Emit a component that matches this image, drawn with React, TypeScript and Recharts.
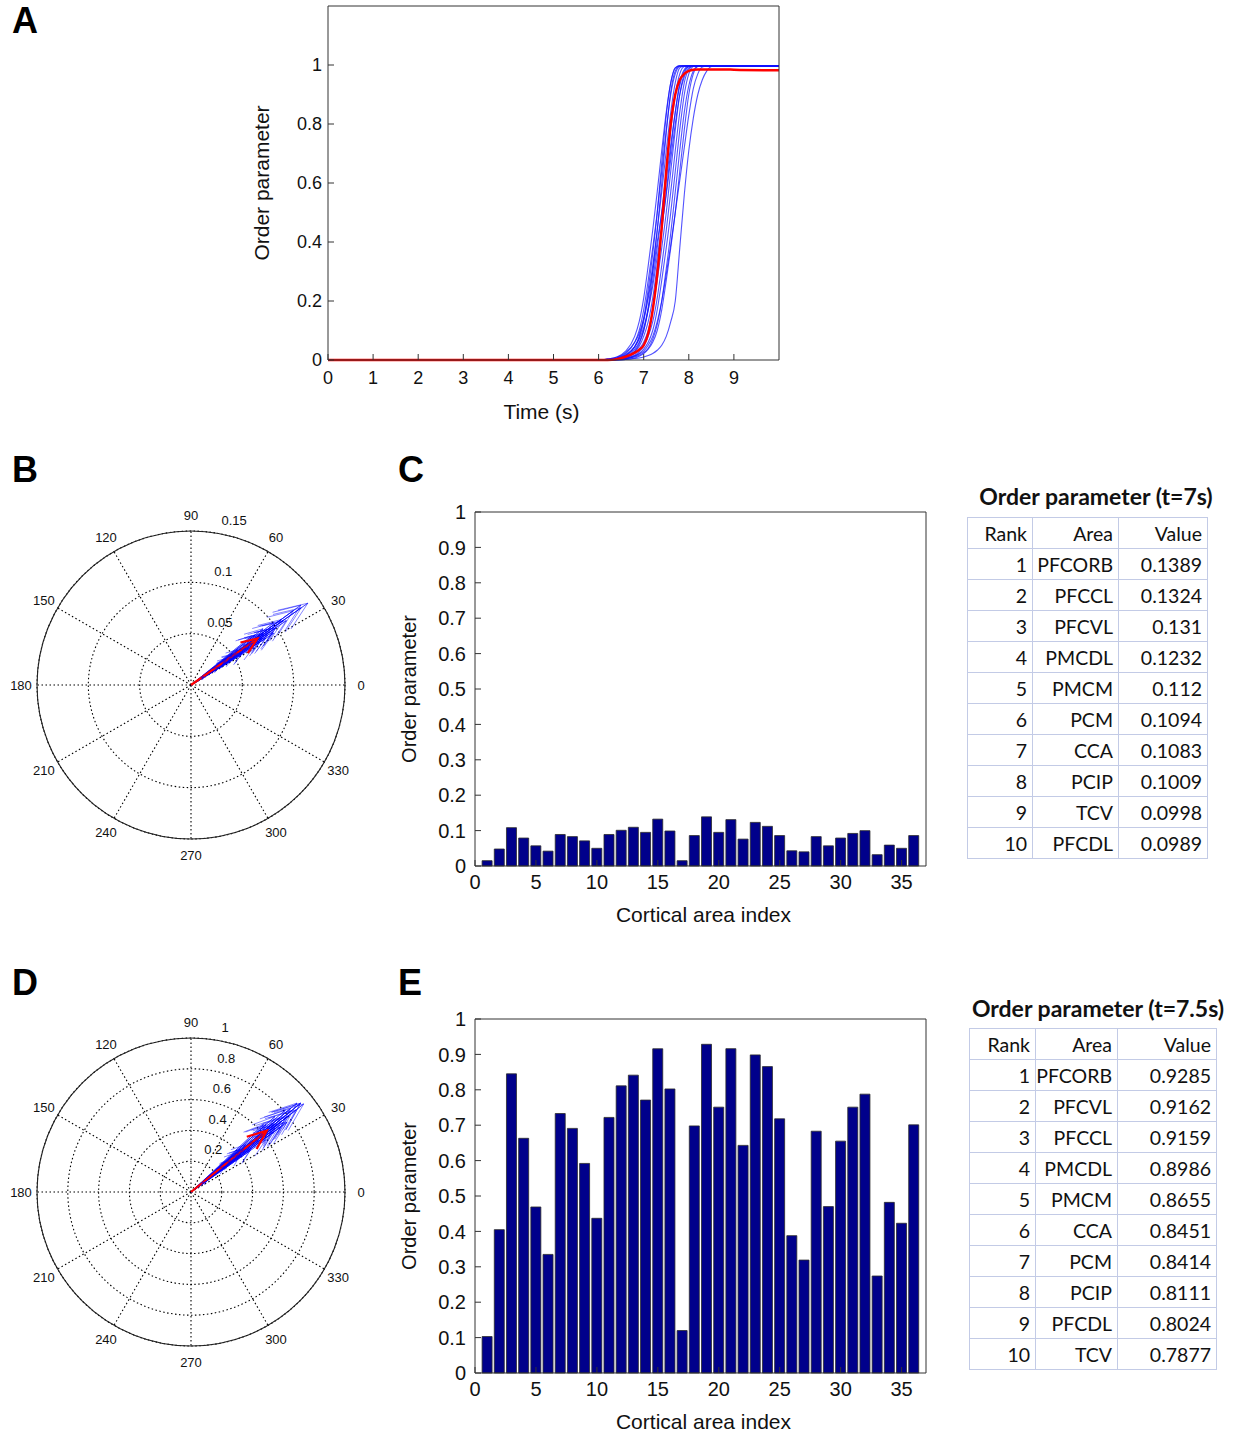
import React from "react";
import {
  LineChart,
  Line,
  BarChart,
  Bar,
  XAxis,
  YAxis,
  ReferenceDot,
  RadarChart,
  Radar,
  PolarGrid,
  PolarAngleAxis,
} from "recharts";

// ---- panel A: order parameter of every run over time ----
const timePoints = [0, 6.0, 6.2, 6.4, 6.6, 6.8, 6.9, 7.0, 7.1, 7.2, 7.3, 7.4, 7.5, 7.6, 7.7, 7.8, 7.9, 8.0, 8.1, 8.2, 8.3, 8.4, 8.5, 8.6, 8.8, 9.0, 10];

const run01 = [0, 0, 0.002, 0.007, 0.022, 0.06, 0.1, 0.17, 0.27, 0.38, 0.5, 0.64, 0.78, 0.9, 0.97, 0.995, 0.997, 0.997, 0.997, 0.997, 0.997, 0.997, 0.997, 0.997, 0.997, 0.997, 0.997];
const run02 = [0, 0, 0.001, 0.004, 0.015, 0.045, 0.08, 0.14, 0.24, 0.36, 0.5, 0.67, 0.83, 0.94, 0.99, 0.997, 0.997, 0.997, 0.997, 0.997, 0.997, 0.997, 0.997, 0.997, 0.997, 0.997, 0.997];
const run03 = [0, 0, 0.001, 0.004, 0.013, 0.037, 0.06, 0.1, 0.17, 0.27, 0.38, 0.5, 0.64, 0.78, 0.9, 0.97, 0.995, 0.997, 0.997, 0.997, 0.997, 0.997, 0.997, 0.997, 0.997, 0.997, 0.997];
const run04 = [0, 0, 0.003, 0.009, 0.025, 0.06, 0.09, 0.14, 0.21, 0.3, 0.4, 0.5, 0.61, 0.73, 0.84, 0.93, 0.98, 0.995, 0.997, 0.997, 0.997, 0.997, 0.997, 0.997, 0.997, 0.997, 0.997];
const run05 = [0, 0, 0.001, 0.003, 0.01, 0.03, 0.055, 0.1, 0.18, 0.3, 0.44, 0.6, 0.77, 0.91, 0.98, 0.997, 0.997, 0.997, 0.997, 0.997, 0.997, 0.997, 0.997, 0.997, 0.997, 0.997, 0.997];
const run06 = [0, 0, 0, 0.002, 0.007, 0.022, 0.037, 0.06, 0.1, 0.17, 0.27, 0.38, 0.5, 0.64, 0.78, 0.9, 0.97, 0.995, 0.997, 0.997, 0.997, 0.997, 0.997, 0.997, 0.997, 0.997, 0.997];
const run07 = [0, 0, 0.002, 0.006, 0.018, 0.045, 0.07, 0.11, 0.17, 0.25, 0.35, 0.45, 0.56, 0.68, 0.8, 0.9, 0.96, 0.99, 0.997, 0.997, 0.997, 0.997, 0.997, 0.997, 0.997, 0.997, 0.997];
const run08 = [0, 0, 0, 0.001, 0.004, 0.013, 0.022, 0.037, 0.06, 0.1, 0.17, 0.27, 0.38, 0.5, 0.64, 0.78, 0.9, 0.97, 0.995, 0.997, 0.997, 0.997, 0.997, 0.997, 0.997, 0.997, 0.997];
const run09 = [0, 0, 0.003, 0.01, 0.03, 0.08, 0.13, 0.21, 0.32, 0.44, 0.57, 0.71, 0.84, 0.94, 0.99, 0.997, 0.997, 0.997, 0.997, 0.997, 0.997, 0.997, 0.997, 0.997, 0.997, 0.997, 0.997];
const run10 = [0, 0, 0, 0, 0.002, 0.007, 0.013, 0.022, 0.037, 0.06, 0.1, 0.17, 0.27, 0.38, 0.5, 0.64, 0.78, 0.9, 0.97, 0.995, 0.997, 0.997, 0.997, 0.997, 0.997, 0.997, 0.997];
const run11 = [0, 0, 0, 0.002, 0.006, 0.014, 0.02, 0.03, 0.05, 0.08, 0.13, 0.2, 0.29, 0.39, 0.5, 0.61, 0.72, 0.83, 0.92, 0.97, 0.993, 0.997, 0.997, 0.997, 0.997, 0.997, 0.997];
const run12 = [0, 0, 0, 0, 0.002, 0.005, 0.007, 0.01, 0.015, 0.022, 0.033, 0.05, 0.08, 0.13, 0.2, 0.38, 0.56, 0.71, 0.82, 0.9, 0.95, 0.98, 0.995, 0.997, 0.997, 0.997, 0.997];
const run13 = [0, 0, 0, 0.001, 0.004, 0.01, 0.016, 0.025, 0.04, 0.07, 0.12, 0.2, 0.31, 0.43, 0.57, 0.71, 0.84, 0.93, 0.98, 0.996, 0.997, 0.997, 0.997, 0.997, 0.997, 0.997, 0.997];
const run14 = [0, 0, 0.002, 0.005, 0.016, 0.045, 0.075, 0.13, 0.22, 0.32, 0.44, 0.57, 0.71, 0.84, 0.94, 0.99, 0.997, 0.997, 0.997, 0.997, 0.997, 0.997, 0.997, 0.997, 0.997, 0.997, 0.997];
const run15 = [0, 0, 0.001, 0.003, 0.01, 0.028, 0.047, 0.08, 0.13, 0.21, 0.32, 0.44, 0.57, 0.71, 0.84, 0.94, 0.985, 0.997, 0.997, 0.997, 0.997, 0.997, 0.997, 0.997, 0.997, 0.997, 0.997];
const run16 = [0, 0, 0, 0.001, 0.005, 0.016, 0.028, 0.047, 0.08, 0.13, 0.21, 0.32, 0.44, 0.57, 0.71, 0.84, 0.94, 0.985, 0.997, 0.997, 0.997, 0.997, 0.997, 0.997, 0.997, 0.997, 0.997];
const blueRuns = [run01, run02, run03, run04, run05, run06, run07, run08, run09, run10, run11, run12, run13, run14, run15, run16];

const meanRun = [0, 0, 0, 0.003, 0.011, 0.025, 0.035, 0.05, 0.09, 0.17, 0.29, 0.45, 0.64, 0.8, 0.9, 0.95, 0.97, 0.98, 0.984, 0.985, 0.985, 0.985, 0.985, 0.985, 0.985, 0.984, 0.982];

const timeTicks = [0, 1, 2, 3, 4, 5, 6, 7, 8, 9];
const orderTicksA = [0, 0.2, 0.4, 0.6, 0.8, 1];

// ---- panels B-E: per-area order parameter and phase ----
const areaIndex = [1, 2, 3, 4, 5, 6, 7, 8, 9, 10, 11, 12, 13, 14, 15, 16, 17, 18, 19, 20, 21, 22, 23, 24, 25, 26, 27, 28, 29, 30, 31, 32, 33, 34, 35, 36];
const orderAt7 = [0.015, 0.048, 0.1083, 0.079, 0.057, 0.042, 0.089, 0.083, 0.071, 0.05, 0.089, 0.1009, 0.1094, 0.095, 0.1324, 0.0989, 0.015, 0.086, 0.1389, 0.095, 0.131, 0.076, 0.1232, 0.112, 0.086, 0.043, 0.04, 0.083, 0.057, 0.079, 0.092, 0.0998, 0.032, 0.059, 0.05, 0.086];
const orderAt75 = [0.103, 0.405, 0.8451, 0.663, 0.469, 0.335, 0.733, 0.691, 0.592, 0.437, 0.722, 0.8111, 0.8414, 0.771, 0.9159, 0.8024, 0.12, 0.698, 0.9285, 0.751, 0.9162, 0.643, 0.8986, 0.8655, 0.718, 0.388, 0.319, 0.683, 0.47, 0.655, 0.751, 0.7877, 0.274, 0.482, 0.423, 0.701];
const phaseAt7 = [34, 33, 36, 32, 37, 35, 38, 34, 31, 36, 33, 37, 35, 32, 36, 34, 30, 36, 35, 33, 35, 39, 36, 34, 32, 37, 35, 33, 31, 38, 36, 34, 33, 32, 37, 35];
const phaseAt75 = [38, 37, 40, 36, 41, 39, 42, 38, 35, 40, 37, 41, 39, 36, 39, 38, 34, 40, 38, 37, 39, 43, 40, 38, 36, 41, 39, 37, 35, 42, 40, 38, 37, 36, 41, 39];
const meanAt7 = { r: 0.079, a: 35 };
const meanAt75 = { r: 0.634, a: 39 };
const ringsAt7 = [0.05, 0.1, 0.15];
const ringsAt75 = [0.2, 0.4, 0.6, 0.8, 1];

// the radar angle axis puts its first tick one step before 0 deg when it runs counter-clockwise
const compassAngles = ["330", "0", "30", "60", "90", "120", "150", "180", "210", "240", "270", "300"];
const areaTicks = [0, 5, 10, 15, 20, 25, 30, 35];
const orderTicksBar = [0, 0.1, 0.2, 0.3, 0.4, 0.5, 0.6, 0.7, 0.8, 0.9, 1];

// ---- ranking tables ----
const ranks = [1, 2, 3, 4, 5, 6, 7, 8, 9, 10];
const topAreasAt7 = ["PFCORB", "PFCCL", "PFCVL", "PMCDL", "PMCM", "PCM", "CCA", "PCIP", "TCV", "PFCDL"];
const topValuesAt7 = ["0.1389", "0.1324", "0.131", "0.1232", "0.112", "0.1094", "0.1083", "0.1009", "0.0998", "0.0989"];
const topAreasAt75 = ["PFCORB", "PFCVL", "PFCCL", "PMCDL", "PMCM", "CCA", "PCM", "PCIP", "PFCDL", "TCV"];
const topValuesAt75 = ["0.9285", "0.9162", "0.9159", "0.8986", "0.8655", "0.8451", "0.8414", "0.8111", "0.8024", "0.7877"];

const FONT = "'Liberation Sans', Arial, Helvetica, sans-serif";
const TABLE_FONT = "Lato, 'Noto Sans', sans-serif";
const AXIS = "#333";
const INK = "#111";

const timeData = timePoints.map((t, i) => {
  const row: Record<string, number> = { t, mean: meanRun[i] };
  blueRuns.forEach((run, k) => {
    row[`r${k}`] = run[i];
  });
  return row;
});

const yTitle = (text: string, dx: number, size: number) => (p: any) => {
  const vb = p.viewBox;
  const cx = vb.x + vb.width - dx;
  const cy = vb.y + vb.height / 2;
  return (
    <text x={cx} y={cy} transform={`rotate(-90 ${cx} ${cy})`} textAnchor="middle" dominantBaseline="central" fontSize={size} fontFamily={FONT} fill={INK}>
      {text}
    </text>
  );
};

const xTitle = (text: string, dx: number, dy: number, size: number) => (p: any) => {
  const vb = p.viewBox;
  return (
    <text x={vb.x + vb.width / 2 + dx} y={vb.y + dy} textAnchor="middle" dominantBaseline="central" fontSize={size} fontFamily={FONT} fill={INK}>
      {text}
    </text>
  );
};

function PanelA() {
  return (
    <div style={{ position: "absolute", left: 240, top: 0 }}>
      <LineChart width={560} height={440} data={timeData} margin={{ top: 5, right: 20, left: 28, bottom: 0 }}>
        <XAxis
          xAxisId="b"
          dataKey="t"
          type="number"
          domain={[0, 10]}
          ticks={timeTicks}
          height={80}
          tickSize={-6}
          tickMargin={17}
          stroke={AXIS}
          tick={{ fontSize: 18, fill: INK, fontFamily: FONT }}
          label={{ content: xTitle("Time (s)", -12, 51, 21) }}
        />
        <XAxis xAxisId="t" orientation="top" dataKey="t" type="number" domain={[0, 10]} ticks={timeTicks} height={1} tickSize={-6} tick={false} stroke={AXIS} />
        <YAxis
          yAxisId="l"
          type="number"
          domain={[0, 1.2]}
          ticks={orderTicksA}
          width={60}
          tickSize={-6}
          tickMargin={12}
          stroke={AXIS}
          tick={{ fontSize: 18, fill: INK, fontFamily: FONT }}
          label={{ content: yTitle("Order parameter", 67, 21) }}
        />
        <YAxis yAxisId="r" orientation="right" type="number" domain={[0, 1.2]} ticks={orderTicksA} width={1} tickSize={-6} tick={false} stroke={AXIS} />
        {blueRuns.map((_, k) => (
          <Line
            key={k}
            xAxisId="b"
            yAxisId="l"
            type="monotone"
            dataKey={`r${k}`}
            stroke="#1010ff"
            strokeOpacity={0.72}
            strokeWidth={1.1}
            dot={false}
            isAnimationActive={false}
          />
        ))}
        <Line xAxisId="b" yAxisId="l" type="monotone" dataKey="mean" stroke="#ff0000" strokeWidth={2.5} dot={false} isAnimationActive={false} />
      </LineChart>
    </div>
  );
}

const R = 154;
const SIZE = 380;

const AngleTick = (props: any) => {
  const { x, y, payload } = props;
  const a = (Number(payload.value) * Math.PI) / 180;
  return (
    <text x={x + 8 * Math.cos(a)} y={y - 8 * Math.sin(a)} textAnchor="middle" dominantBaseline="central" fontSize={13} fontFamily={FONT} fill={INK}>
      {payload.value}
    </text>
  );
};

const ringLabel = (text: string) => (p: any) => (
  <text x={p.cx + 9} y={p.cy - 7} textAnchor="start" fontSize={13} fontFamily={FONT} fill={INK}>
    {text}
  </text>
);

const headDot = (rmax: number, color: string, width: number, opacity: number) => (props: any) => {
  const { cx, cy, payload, index } = props;
  if (!payload || !payload.tip) return <g key={index} />;
  const L = (payload.r / rmax) * R;
  const th = (payload.a * Math.PI) / 180;
  const ux = Math.cos(th);
  const uy = -Math.sin(th);
  const bx = cx - 0.2 * L * ux;
  const by = cy - 0.2 * L * uy;
  const px = -uy * 0.08 * L;
  const py = ux * 0.08 * L;
  return (
    <path
      key={index}
      d={`M${bx + px},${by + py}L${cx},${cy}L${bx - px},${by - py}`}
      fill="none"
      stroke={color}
      strokeWidth={width}
      strokeOpacity={opacity}
    />
  );
};

function Compass({ left, top, rmax, rings, mags, phases, mean }: any) {
  const angleData = compassAngles.map((a) => ({ angle: a, zero: 0 }));
  const fan: any[] = [{ x: 0, y: 0 }];
  mags.forEach((r: number, i: number) => {
    const th = (phases[i] * Math.PI) / 180;
    fan.push({ x: r * Math.cos(th), y: r * Math.sin(th), r, a: phases[i], tip: true });
    fan.push({ x: 0, y: 0 });
  });
  const mth = (mean.a * Math.PI) / 180;
  const meanData = [
    { x: 0, y: 0 },
    { x: mean.r * Math.cos(mth), y: mean.r * Math.sin(mth), r: mean.r, a: mean.a, tip: true },
  ];
  const lab = (82 * Math.PI) / 180;
  const pad = SIZE / 2 - R;
  return (
    <div style={{ position: "absolute", left, top, width: SIZE, height: SIZE }}>
      <div style={{ position: "absolute", left: 0, top: 0 }}>
        <RadarChart width={SIZE} height={SIZE} data={angleData} outerRadius={R} startAngle={0} endAngle={360} margin={{ top: 0, right: 0, bottom: 0, left: 0 }}>
          <PolarGrid gridType="circle" polarRadius={rings.map((v: number) => (v / rmax) * R)} stroke="#000" strokeWidth={1.1} strokeDasharray="1.5 2.5" />
          <PolarGrid gridType="circle" radialLines={false} polarRadius={[R]} stroke="#222" strokeWidth={1.1} />
          <PolarAngleAxis dataKey="angle" tick={AngleTick} tickLine={false} axisLine={false} />
          <Radar dataKey="zero" stroke="none" fill="none" isAnimationActive={false} />
        </RadarChart>
      </div>
      <div style={{ position: "absolute", left: 0, top: 0 }}>
        <LineChart width={SIZE} height={SIZE} margin={{ top: pad, right: pad, bottom: pad, left: pad }}>
          <XAxis type="number" dataKey="x" domain={[-rmax, rmax]} hide allowDataOverflow />
          <YAxis type="number" domain={[-rmax, rmax]} hide allowDataOverflow />
          {rings.map((v: number) => (
            <ReferenceDot
              key={v}
              x={v * Math.cos(lab)}
              y={v * Math.sin(lab)}
              r={0}
              ifOverflow="visible"
              shape={ringLabel(String(v))}
            />
          ))}
          <Line
            data={fan}
            dataKey="y"
            type="linear"
            stroke="#0000ff"
            strokeOpacity={0.6}
            strokeWidth={0.8}
            dot={headDot(rmax, "#0000ff", 0.8, 0.6)}
            activeDot={false}
            isAnimationActive={false}
          />
          <Line
            data={meanData}
            dataKey="y"
            type="linear"
            stroke="#ff0000"
            strokeWidth={2.2}
            dot={headDot(rmax, "#ff0000", 2.2, 1)}
            activeDot={false}
            isAnimationActive={false}
          />
        </LineChart>
      </div>
    </div>
  );
}

function OrderBars({ top, values }: any) {
  const data = areaIndex.map((idx, i) => ({ idx, v: values[i] }));
  return (
    <div style={{ position: "absolute", left: 380, top }}>
      <BarChart width={560} height={431} data={data} margin={{ top: 16, right: 13, left: 35, bottom: 0 }}>
        <XAxis
          xAxisId="b"
          dataKey="idx"
          type="number"
          domain={[0, 37]}
          ticks={areaTicks}
          height={60}
          tickSize={-6}
          tickMargin={15}
          stroke={AXIS}
          tick={{ fontSize: 20, fill: INK, fontFamily: FONT }}
          label={{ content: xTitle("Cortical area index", 3, 48, 21) }}
        />
        <XAxis xAxisId="t" orientation="top" dataKey="idx" type="number" domain={[0, 37]} ticks={areaTicks} height={1} tickSize={-6} tick={false} stroke={AXIS} />
        <YAxis
          yAxisId="l"
          type="number"
          domain={[0, 1]}
          ticks={orderTicksBar}
          width={60}
          tickSize={-6}
          tickMargin={15}
          stroke={AXIS}
          tick={{ fontSize: 20, fill: INK, fontFamily: FONT }}
          label={{ content: yTitle("Order parameter", 66, 20) }}
        />
        <YAxis yAxisId="r" orientation="right" type="number" domain={[0, 1]} ticks={orderTicksBar} width={1} tickSize={-6} tick={false} stroke={AXIS} />
        <Bar xAxisId="b" yAxisId="l" dataKey="v" fill="#00008b" stroke="#2b2b2b" strokeWidth={0.8} barSize={10} isAnimationActive={false} />
      </BarChart>
    </div>
  );
}

function RankTable({ left, top, titleTop, titleCenter, title, widths, rowH, areas, values }: any) {
  const cell = (w: number) => ({
    width: w,
    height: rowH,
    boxSizing: "border-box" as const,
    border: "1px solid #c3cbe6",
    textAlign: "right" as const,
    padding: "0 5px 0 0",
    fontSize: 19.5,
    color: INK,
  });
  const rows = [["Rank", "Area", "Value"], ...ranks.map((r, i) => [String(r), areas[i], values[i]])];
  return (
    <>
      <div
        style={{
          position: "absolute",
          left: titleCenter - 150,
          width: 300,
          top: titleTop,
          textAlign: "center",
          fontFamily: TABLE_FONT,
          fontWeight: 700,
          fontSize: 23,
          lineHeight: "26px",
          color: INK,
        }}
      >
        {title}
      </div>
      <table
        style={{
          position: "absolute",
          left,
          top,
          borderCollapse: "collapse",
          tableLayout: "fixed",
          fontFamily: TABLE_FONT,
        }}
      >
        <tbody>
          {rows.map((row, i) => (
            <tr key={i} style={{ height: rowH }}>
              {row.map((c, j) => (
                <td key={j} style={cell(widths[j])}>
                  {c}
                </td>
              ))}
            </tr>
          ))}
        </tbody>
      </table>
    </>
  );
}

const letter = (ch: string, left: number, top: number) => (
  <div
    style={{
      position: "absolute",
      left,
      top,
      fontFamily: FONT,
      fontWeight: 700,
      fontSize: 36,
      lineHeight: "36px",
      color: "#000",
    }}
  >
    {ch}
  </div>
);

export default function App() {
  return (
    <div style={{ position: "absolute", left: 0, top: 0, width: 1233, height: 1433, background: "#fff", overflow: "hidden" }}>
      {letter("A", 12, 3)}
      {letter("B", 12, 452)}
      {letter("C", 398, 452)}
      {letter("D", 12, 965)}
      {letter("E", 398, 965)}
      <PanelA />
      <Compass left={1} top={495} rmax={0.15} rings={ringsAt7} mags={orderAt7} phases={phaseAt7} mean={meanAt7} />
      <OrderBars top={495} values={orderAt7} />
      <RankTable
        left={967}
        top={517}
        titleTop={483}
        titleCenter={1096}
        title="Order parameter (t=7s)"
        widths={[65, 86, 89]}
        rowH={31}
        areas={topAreasAt7}
        values={topValuesAt7}
      />
      <Compass left={1} top={1002} rmax={1} rings={ringsAt75} mags={orderAt75} phases={phaseAt75} mean={meanAt75} />
      <OrderBars top={1002} values={orderAt75} />
      <RankTable
        left={969}
        top={1028}
        titleTop={995}
        titleCenter={1098}
        title="Order parameter (t=7.5s)"
        widths={[66, 82, 99]}
        rowH={31}
        areas={topAreasAt75}
        values={topValuesAt75}
      />
    </div>
  );
}
